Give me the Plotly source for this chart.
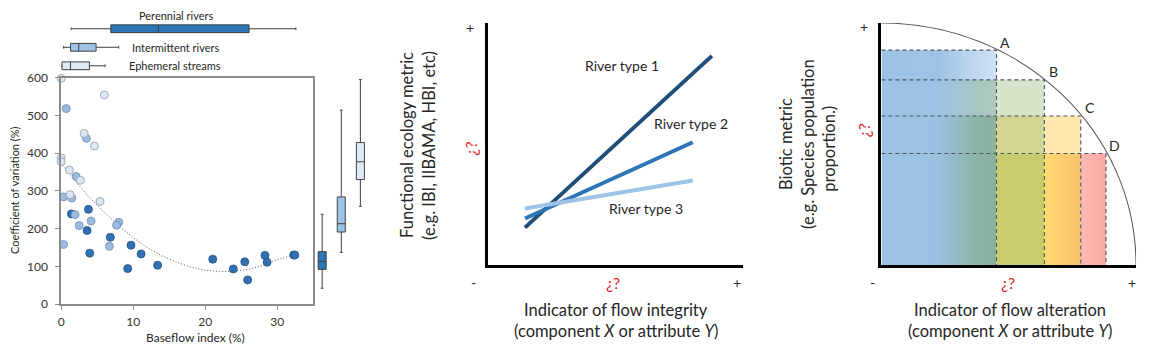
import plotly.graph_objects as go

W, H = 1151, 359
FONT = "Lato"
TXT = "#262626"

# ---------------- Panel 1: scatter + boxes ----------------
per_x = [3.79, 1.43, 3.6, 3.97, 6.83, 9.7, 11.1, 9.24, 13.4, 21.05, 23.9, 25.5, 25.9, 28.3, 28.6, 32.3, 32.45]
per_y = [251, 239, 195, 135, 177, 156, 133, 94, 103, 119, 93, 112, 64, 129, 111, 130, 130]
int_x = [0.7, 3.51, 2.08, 0.33, 1.48, 1.94, 4.16, 8.0, 7.7, 2.5, 6.7, 0.33]
int_y = [518, 439, 338, 284, 281, 237, 220, 217, 209, 208, 153, 158]
eph_x = [0.0, 6.0, 3.19, 4.62, 0.0, 0.0, 1.16, 2.68, 1.25, 5.4]
eph_y = [598, 554, 452, 419, 387, 377, 355, 328, 290, 272]

trend_x = [0, 2, 4, 6, 8, 10, 12, 14, 16, 18, 20, 22, 24, 26, 28, 30, 32.5]
trend_y = [374, 325, 281, 243, 208, 176, 149, 128, 111, 98, 90, 86, 87, 92, 102, 117, 132]

groups = ["Perennial rivers", "Intermittent rivers", "Ephemeral streams"]
bfi_lo = [1.4, 0.35, 0.1]
bfi_q1 = [6.9, 1.3, 0.1]
bfi_med = [13.5, 2.45, 1.3]
bfi_q3 = [26.1, 4.85, 3.93]
bfi_hi = [32.6, 8.0, 6.1]

cv_lo = [42, 137, 259]
cv_q1 = [92, 191, 330]
cv_med = [113, 213, 377]
cv_q3 = [139, 284, 428]
cv_hi = [238, 514, 595]

grp_fill = ["#2e75b6", "#9dc3e6", "#deebf7"]
dot_fill = ["#3070b3", "#9bbade", "#dde7f3"]
dot_line = ["#22507f", "#6f8fb3", "#8a9bb0"]

# ---------------- Panel 2: river types ----------------
rt_names = ["River type 1", "River type 2", "River type 3"]
rt_x0 = [1.46, 1.46, 1.46]
rt_x1 = [8.79, 8.04, 8.04]
rt_y0 = [1.53, 1.91, 2.32]
rt_y1 = [8.65, 5.07, 3.48]
rt_color = ["#1f4e79", "#2e75b6", "#9dc3e6"]

# ---------------- Panel 3: quarter circle ----------------
pt_names = ["A", "B", "C", "D"]
pt_x = [0.452, 0.640, 0.783, 0.882]
pt_y = [0.888, 0.765, 0.616, 0.461]

fig = go.Figure()

# trend line
fig.add_trace(go.Scatter(x=trend_x, y=trend_y, mode="lines",
                         line=dict(color="#595959", width=1, dash="1px,2px"),
                         xaxis="x", yaxis="y", hoverinfo="skip"))
for gx, gy, i in [(per_x, per_y, 0), (int_x, int_y, 1), (eph_x, eph_y, 2)]:
    fig.add_trace(go.Scatter(x=gx, y=gy, mode="markers", cliponaxis=False,
                             marker=dict(size=8, color=dot_fill[i],
                                         line=dict(color=dot_line[i], width=0.8)),
                             xaxis="x", yaxis="y", name=groups[i]))

# vertical boxes (CV)
for i, g in enumerate(groups):
    fig.add_trace(go.Box(x=[g], q1=[cv_q1[i]], median=[cv_med[i]], q3=[cv_q3[i]],
                         lowerfence=[cv_lo[i]], upperfence=[cv_hi[i]],
                         fillcolor=grp_fill[i], line=dict(color="#404040", width=1),
                         width=0.42, whiskerwidth=0.35, boxpoints=False,
                         xaxis="x2", yaxis="y2", orientation="v"))
# horizontal boxes (BFI)
for i, g in enumerate(groups):
    fig.add_trace(go.Box(y=[g], q1=[bfi_q1[i]], median=[bfi_med[i]], q3=[bfi_q3[i]],
                         lowerfence=[bfi_lo[i]], upperfence=[bfi_hi[i]],
                         fillcolor=grp_fill[i], line=dict(color="#404040", width=1),
                         width=0.42, whiskerwidth=0.35, boxpoints=False,
                         xaxis="x3", yaxis="y3", orientation="h"))

# panel 2 lines
for i, n in enumerate(rt_names):
    fig.add_trace(go.Scatter(x=[rt_x0[i], rt_x1[i]], y=[rt_y0[i], rt_y1[i]], mode="lines",
                             line=dict(color=rt_color[i], width=4), name=n,
                             xaxis="x4", yaxis="y4"))

# panel 3 cells
Ax, Bx, Cx, Dx = pt_x
Ay, By, Cy, Dy = pt_y

def cell(x0, x1, y0, y1, color=None, scale=None):
    kw = dict(x=[x0, x1, x1, x0, x0], y=[y0, y0, y1, y1, y0], fill="toself",
              mode="lines", line=dict(width=0), xaxis="x5", yaxis="y5",
              hoverinfo="skip")
    if scale is not None:
        kw["fillgradient"] = dict(type="horizontal", colorscale=scale)
    else:
        kw["fillcolor"] = color
    fig.add_trace(go.Scatter(**kw))

cell(0, Ax, By, Ay, scale=[[0, "#9cc2e5"], [0.5, "#9ec3e6"], [1, "#d2e3f5"]])
cell(0, Ax, Cy, By, scale=[[0, "#9cc2e5"], [0.48, "#9cc2e5"], [0.85, "#a8c6c2"], [1, "#b0cbbc"]])
cell(0, Ax, 0, Cy, scale=[[0, "#9cc2e5"], [0.48, "#9bc1e2"], [0.85, "#8bb3a3"], [1, "#8cb39c"]])
cell(Ax, Bx, Cy, By, color="#d6e4c9")
cell(Ax, Bx, Dy, Cy, color="#d1d590")
cell(Ax, Bx, 0, Dy, color="#c9cc6c")
cell(Bx, Cx, Dy, Cy, color="#fee8ae")
cell(Bx, Cx, 0, Dy, scale=[[0, "#fed970"], [1, "#f8c36b"]])
cell(Cx, Dx, 0, Dy, scale=[[0, "#fcb9b1"], [1, "#fbaaa4"]])

for i in range(4):
    fig.add_trace(go.Scatter(x=[0, pt_x[i], pt_x[i]], y=[pt_y[i], pt_y[i], 0], mode="lines",
                             line=dict(color="#4a5560", width=1.1, dash="4px,3px"),
                             xaxis="x5", yaxis="y5", hoverinfo="skip"))

tickfont = dict(family=FONT, size=12, color="#333333")
plain = dict(showgrid=False, zeroline=False, showticklabels=False, ticks="")

def px(x):
    return x / W

def py(y):
    return 1 - y / H

layout = dict(
    width=W, height=H, margin=dict(l=0, r=0, t=0, b=0), autosize=False,
    paper_bgcolor="white", plot_bgcolor="rgba(0,0,0,0)", showlegend=False,
    boxmode="overlay",
    xaxis=dict(domain=[px(58.3), px(311)], range=[0, 35], dtick=10, tick0=0,
               showline=True, mirror=True, linecolor="#8c8c8c", linewidth=1.5,
               ticks="outside", ticklen=4, tickcolor="#8c8c8c", showgrid=False,
               zeroline=False, tickfont=tickfont, ticklabelstandoff=2, anchor="y"),
    yaxis=dict(domain=[py(309), py(72.7)], range=[0, 600], dtick=100, tick0=0,
               showline=True, mirror=True, linecolor="#8c8c8c", linewidth=1.5,
               ticks="outside", ticklen=4, tickcolor="#8c8c8c", showgrid=False,
               zeroline=False, tickfont=tickfont, ticklabelstandoff=5, anchor="x"),
    xaxis2=dict(domain=[px(310.4), px(367.9)], type="category", categoryarray=groups,
                categoryorder="array", range=[-0.5, 2.5], visible=False, anchor="y2"),
    yaxis2=dict(domain=[py(309), py(72.7)], range=[0, 600], visible=False, anchor="x2"),
    xaxis3=dict(domain=[px(58.3), px(311)], range=[0, 35], visible=False, anchor="y3"),
    yaxis3=dict(domain=[py(70), py(12)], type="category", categoryarray=groups,
                categoryorder="array", range=[2.5, -0.5], visible=False, anchor="x3"),
    xaxis4=dict(domain=[px(486), px(741.7)], range=[0, 10], showline=True, linecolor="black",
                linewidth=2.5, anchor="y4", **plain),
    yaxis4=dict(domain=[py(267.7), py(16)], range=[0, 10], showline=True, linecolor="black",
                linewidth=2.5, anchor="x4", **plain),
    xaxis5=dict(domain=[px(880.7), px(1136)], range=[0, 1], showline=True, linecolor="black",
                linewidth=3, anchor="y5", **plain),
    yaxis5=dict(domain=[py(268.3), py(15.7)], range=[0, 1], showline=True, linecolor="black",
                linewidth=3, anchor="x5", **plain),
)

shapes = [dict(type="path", xref="x5", yref="y5",
               path="M 0,1 C 0.5523,1 1,0.5523 1,0",
               line=dict(color="#5a5a5a", width=1.1), layer="above")]

anns = []

def ann(text, x, y, size, color=TXT, angle=0, xanchor="center"):
    anns.append(dict(text=text, x=px(x), y=py(y), xref="paper", yref="paper",
                     showarrow=False, textangle=angle, xanchor=xanchor, yanchor="middle",
                     font=dict(family=FONT, size=size, color=color)))

# panel 1 texts
ann("Perennial rivers", 173, 7.5, 11)
ann("Intermittent rivers", 127, 41.5, 11, xanchor="left")
ann("Ephemeral streams", 124, 60.5, 11, xanchor="left")
ann("Coefficient of variation (%)", 11, 190, 11, angle=-90)
ann("Baseflow index (%)", 193, 344, 12)

# panel 2 texts
RED = "#e02424"
ann("River type 1", 621, 60, 14)
ann("River type 2", 690, 121, 14)
ann("River type 3", 645, 209, 14)
ann("+", 468, 20, 14)
ann("-", 472, 286, 14)
ann("+", 736, 286, 14)
ann("¿?", 612, 286, 16, color=RED)
ann("¿?", 469, 147, 16, color=RED, angle=-90)
ann("Functional ecology metric", 405, 143, 16.5, angle=-90)
ann("(e.g. IBI, IIBAMA, HBI, etc)", 427, 143, 16.5, angle=-90)
ann("Indicator of flow integrity", 615, 315, 16.5)
ann("(component <i>X</i> or attribute <i>Y</i>)", 615, 337, 16.5)

# panel 3 texts
for i, n in enumerate(pt_names):
    anns.append(dict(text=n, x=pt_x[i], y=pt_y[i], xref="x5", yref="y5", showarrow=False,
                     xshift=9, yshift=8, font=dict(family=FONT, size=14, color=TXT)))
ann("+", 863, 19, 14)
ann("-", 872, 286, 14)
ann("+", 1132, 286, 14)
ann("¿?", 1008, 286, 16, color=RED)
ann("¿?", 863, 128, 16, color=RED, angle=-90)
ann("Biotic metric", 785, 142, 16.5, angle=-90)
ann("(e.g. Species population", 807, 142, 16.5, angle=-90)
ann("proportion.)", 828, 147, 16.5, angle=-90)
ann("Indicator of flow alteration", 1010, 315, 16.5)
ann("(component <i>X</i> or attribute <i>Y</i>)", 1010, 337, 16.5)

layout["shapes"] = shapes
layout["annotations"] = anns
fig.update_layout(**layout)
fig.write_html("out.html")
